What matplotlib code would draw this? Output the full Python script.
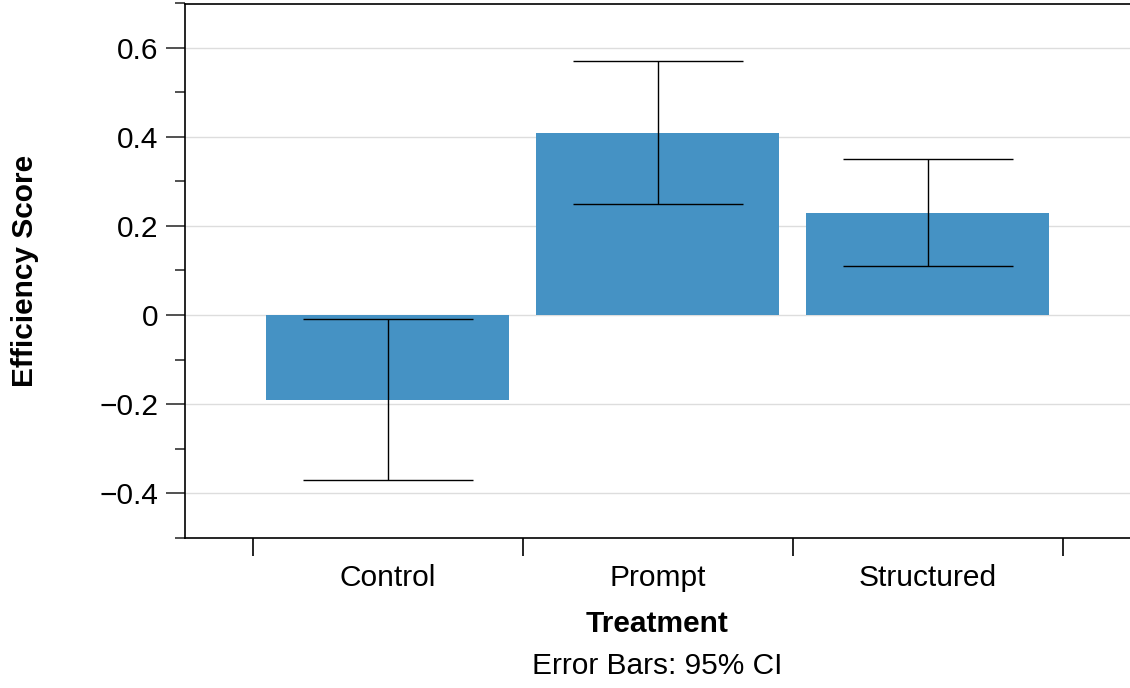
import matplotlib
matplotlib.use("Agg")
import matplotlib.pyplot as plt
from matplotlib.ticker import MultipleLocator, FixedLocator, NullFormatter

plt.rcParams["font.family"] = ["Liberation Sans", "DejaVu Sans"]
plt.rcParams["font.size"] = 21.5

treatments = ["Control", "Prompt", "Structured"]
scores = [-0.19, 0.41, 0.23]
ci_low = [-0.37, 0.25, 0.11]
ci_high = [-0.01, 0.57, 0.35]

x = list(range(len(treatments)))
err_low = [s - lo for s, lo in zip(scores, ci_low)]
err_high = [hi - s for s, hi in zip(scores, ci_high)]

fig = plt.figure(figsize=(11.3, 6.88), dpi=100)
ax = fig.add_axes([185 / 1130, 1 - 537.5 / 688, 945 / 1130, 534 / 688])

ax.bar(x, scores, width=0.9, color="#4592c4", zorder=2)
ax.errorbar(x, scores, yerr=[err_low, err_high], fmt="none", ecolor="black",
            elinewidth=1.0, capsize=61, capthick=1.0, zorder=3)

ax.set_xlim(-0.75, 2.75)
ax.set_ylim(-0.5, 0.7)

# y axis
ax.yaxis.set_major_locator(FixedLocator([-0.4, -0.2, 0.0, 0.2, 0.4, 0.6]))
ax.yaxis.set_minor_locator(MultipleLocator(0.1))
ax.yaxis.set_major_formatter(plt.FuncFormatter(lambda v, _: "0" if abs(v) < 1e-9 else f"{v:.1f}".replace("-", "\u2212")))
ax.tick_params(axis="y", which="major", length=14, width=1.2, color="#333333", pad=5)
ax.tick_params(axis="y", which="minor", length=7, width=1.2, color="#333333")
ax.grid(axis="y", which="major", color="#dddddd", linewidth=1.0, zorder=0)
ax.set_axisbelow(True)

# x axis: labels at centres, ticks on category boundaries
ax.xaxis.set_major_locator(FixedLocator(x))
ax.set_xticklabels(treatments)
ax.xaxis.set_minor_locator(FixedLocator([-0.5, 0.5, 1.5, 2.5]))
ax.xaxis.set_minor_formatter(NullFormatter())
ax.tick_params(axis="x", which="major", length=0, pad=19)
ax.tick_params(axis="x", which="minor", length=13, width=1.2, color="black")

ax.spines["right"].set_visible(False)
for side in ["left", "top", "bottom"]:
    ax.spines[side].set_linewidth(1.2)

ax.set_ylabel("Efficiency Score", fontweight="bold")
ax.yaxis.set_label_coords(-0.155, 0.5)
ax.set_xlabel("Treatment", fontweight="bold")
ax.xaxis.set_label_coords(0.5, -0.135)

fig.text(657.5 / 1130, 1 - 666 / 688, "Error Bars: 95% CI", ha="center", va="center")

fig.savefig("out.png", dpi=100)
